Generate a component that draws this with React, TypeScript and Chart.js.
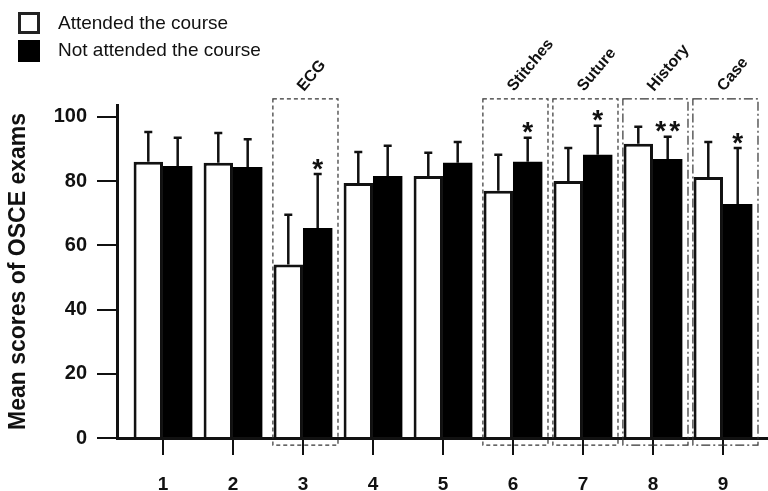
import React, { useEffect, useRef } from "react";
import { Chart, registerables } from "chart.js";

Chart.register(...registerables);

// ---- data ----
const groupLabels = ["1", "2", "3", "4", "5", "6", "7", "8", "9"];
const groupPositions = [1, 2, 3, 4, 5, 6, 7, 8, 9];
const attendedMean = [86, 85.7, 54, 79.4, 81.6, 77, 80, 91.6, 81.3];
const attendedSD = [9.3, 9.3, 15.5, 9.7, 7.2, 11.2, 10.3, 5.3, 10.9];
const notAttendedMean = [84.7, 84.4, 65.4, 81.6, 85.7, 86, 88.2, 86.9, 72.9];
const notAttendedSD = [8.8, 8.6, 16.8, 9.4, 6.5, 7.5, 9.0, 6.9, 17.4];
const significance = ["", "", "*", "", "", "*", "*", "**", "*"];
const boxLabels = ["", "", "ECG", "", "", "Stitches", "Suture", "History", "Case"];
const boxStyles = ["", "", "dash", "", "", "dash", "dash", "dashdot", "dashdot"];
const yTickValues = [0, 20, 40, 60, 80, 100];
const legendLabels = ["Attended the course", "Not attended the course"];
const yTitle = "Mean scores of OSCE exams";

const FONT = "'Liberation Sans', Arial, Helvetica, sans-serif";

const overlayPlugin = {
  id: "overlay",
  afterDatasetsDraw(chart: any) {
    const ctx = chart.ctx as CanvasRenderingContext2D;
    const xs = chart.scales.x;
    const ys = chart.scales.y;
    ctx.save();

    // error bars
    const means = [attendedMean, notAttendedMean];
    const sds = [attendedSD, notAttendedSD];
    for (let d = 0; d < 2; d++) {
      const meta = chart.getDatasetMeta(d);
      meta.data.forEach((el: any, i: number) => {
        const top = ys.getPixelForValue(means[d][i] + sds[d][i]);
        ctx.strokeStyle = "#111";
        ctx.lineWidth = 2.5;
        ctx.lineCap = "butt";
        ctx.beginPath();
        ctx.moveTo(el.x, el.y);
        ctx.lineTo(el.x, top);
        ctx.moveTo(el.x - 4, top);
        ctx.lineTo(el.x + 4, top);
        ctx.stroke();
      });
    }

    // significance asterisks
    const meta2 = chart.getDatasetMeta(1);
    ctx.font = `bold 28px ${FONT}`;
    ctx.fillStyle = "#111";
    ctx.textAlign = "center";
    ctx.textBaseline = "alphabetic";
    const m = ctx.measureText("*");
    const inkOff = (m.actualBoundingBoxAscent - m.actualBoundingBoxDescent) / 2;
    meta2.data.forEach((el: any, i: number) => {
      const s = significance[i];
      if (!s) return;
      const top = ys.getPixelForValue(notAttendedMean[i] + notAttendedSD[i]);
      const cy = top - 10 + inkOff;
      if (s.length === 1) {
        ctx.fillText("*", el.x, cy);
      } else {
        ctx.fillText("*", el.x - 7, cy);
        ctx.fillText("*", el.x + 7, cy);
      }
    });

    // boxes + labels
    groupPositions.forEach((g, i) => {
      const style = boxStyles[i];
      if (!style) return;
      const x1 = xs.getPixelForValue(g - 0.43);
      const x2 = xs.getPixelForValue(g + 0.5);
      const y1 = ys.getPixelForValue(105.6);
      const y2 = ys.getPixelForValue(-2.2);
      ctx.strokeStyle = "#333";
      ctx.lineWidth = 1.2;
      ctx.setLineDash(style === "dash" ? [4, 3] : [9, 3, 2, 3]);
      ctx.strokeRect(x1, y1, x2 - x1, y2 - y1);
      ctx.setLineDash([]);
      const lbl = boxLabels[i];
      if (lbl) {
        const cx = xs.getPixelForValue(g);
        ctx.save();
        ctx.translate(cx + 1, y1 - 7);
        ctx.rotate((-50 * Math.PI) / 180);
        ctx.font = `bold 16px ${FONT}`;
        ctx.fillStyle = "#111";
        ctx.textAlign = "left";
        ctx.textBaseline = "alphabetic";
        ctx.fillText(lbl, 0, 0);
        ctx.restore();
      }
    });

    // legend
    ctx.setLineDash([]);
    ctx.fillStyle = "#fff";
    ctx.fillRect(19.5, 13.5, 19, 19);
    ctx.strokeStyle = "#222";
    ctx.lineWidth = 3;
    ctx.strokeRect(19.5, 13.5, 19, 19);
    ctx.fillStyle = "#000";
    ctx.fillRect(18, 40, 22, 22);
    ctx.font = `19px ${FONT}`;
    ctx.fillStyle = "#111";
    ctx.textAlign = "left";
    ctx.textBaseline = "alphabetic";
    ctx.fillText(legendLabels[0], 58, 29);
    ctx.fillText(legendLabels[1], 58, 56);

    ctx.restore();
  },
};

export default function App() {
  const ref = useRef<HTMLCanvasElement | null>(null);
  useEffect(() => {
    if (!ref.current) return;
    const chart = new Chart(ref.current, {
      type: "bar",
      data: {
        datasets: [
          {
            label: legendLabels[0],
            data: groupPositions.map((g, i) => ({ x: g, y: attendedMean[i] })),
            backgroundColor: "#fff",
            borderColor: "#111",
            borderWidth: 3,
            borderSkipped: "start",
            categoryPercentage: 0.84,
            barPercentage: 1,
          },
          {
            label: legendLabels[1],
            data: groupPositions.map((g, i) => ({ x: g, y: notAttendedMean[i] })),
            backgroundColor: "#000",
            borderWidth: 0,
            categoryPercentage: 0.84,
            barPercentage: 1,
          },
        ],
      },
      options: {
        responsive: false,
        animation: false,
        devicePixelRatio: 1,
        events: [],
        layout: { padding: { top: 105, left: 0, right: 0, bottom: 0 } },
        plugins: {
          legend: { display: false },
          tooltip: { enabled: false },
        },
        scales: {
          x: {
            type: "linear",
            min: 0.343,
            max: 9.643,
            offset: false,
            afterBuildTicks: (axis: any) => {
              axis.ticks = groupPositions.map((v) => ({ value: v }));
            },
            afterFit: (axis: any) => {
              axis.height = 53;
            },
            grid: {
              offset: false,
              drawOnChartArea: false,
              drawTicks: true,
              tickLength: 17,
              color: "#111",
              lineWidth: 2,
            },
            border: { display: true, color: "#111", width: 3 },
            ticks: {
              autoSkip: false,
              maxRotation: 0,
              padding: 18,
              color: "#111",
              font: { family: FONT, size: 19, weight: "bold" },
              callback: (v: any) => {
                const idx = groupPositions.indexOf(Number(v));
                return idx >= 0 ? groupLabels[idx] : "";
              },
            },
          },
          y: {
            type: "linear",
            min: 0,
            max: 103.7,
            afterBuildTicks: (axis: any) => {
              axis.ticks = yTickValues.map((v) => ({ value: v }));
            },
            afterFit: (axis: any) => {
              axis.width = 117;
            },
            grid: {
              drawOnChartArea: false,
              drawTicks: true,
              tickLength: 20,
              color: "#111",
              lineWidth: 2,
            },
            border: { display: true, color: "#111", width: 3 },
            ticks: {
              padding: 10,
              color: "#111",
              font: { family: FONT, size: 20, weight: "bold" },
            },
            title: {
              display: true,
              text: yTitle,
              color: "#111",
              font: { family: FONT, size: 23, weight: "bold" },
              padding: { top: 5, bottom: 0 },
            },
          },
        },
      },
      plugins: [overlayPlugin],
    } as any);
    return () => chart.destroy();
  }, []);

  return (
    <div style={{ position: "absolute", left: 0, top: 0, width: 768, height: 491, background: "#fff" }}>
      <canvas ref={ref} width={768} height={491} style={{ width: 768, height: 491, display: "block" }} />
    </div>
  );
}
